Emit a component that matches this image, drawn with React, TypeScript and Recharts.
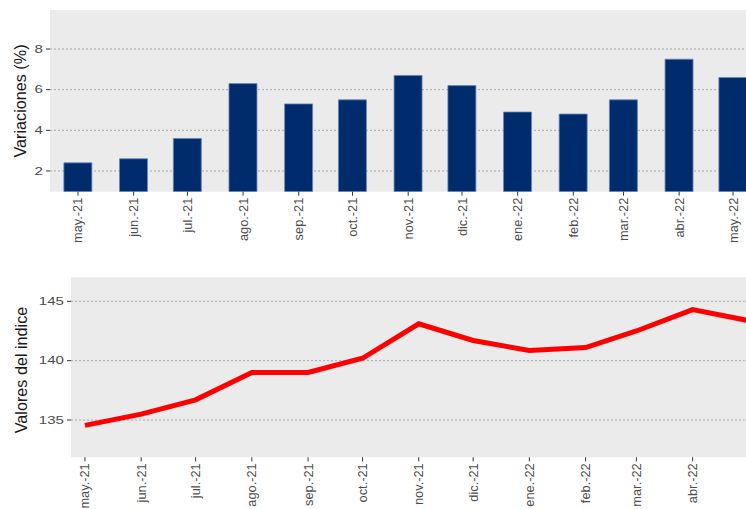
import { BarChart, Bar, LineChart, Line, XAxis, YAxis, CartesianGrid } from "recharts";

const FONT = "'Liberation Sans', Arial, Helvetica, sans-serif";

// Month labels and their dates (first of each month)
const MONTHS = ["may.-21", "jun.-21", "jul.-21", "ago.-21", "sep.-21", "oct.-21", "nov.-21", "dic.-21", "ene.-22", "feb.-22", "mar.-22", "abr.-22", "may.-22"];
const DATES = ["2021-05-01", "2021-06-01", "2021-07-01", "2021-08-01", "2021-09-01", "2021-10-01", "2021-11-01", "2021-12-01", "2022-01-01", "2022-02-01", "2022-03-01", "2022-04-01", "2022-05-01"];

// Variaciones (%)
const VARIACIONES = [2.4, 2.6, 3.6, 6.3, 5.3, 5.5, 6.7, 6.2, 4.9, 4.8, 5.5, 7.5, 6.6];
// Valores del indice
const INDICE = [134.55, 135.5, 136.7, 139.0, 139.0, 140.2, 143.1, 141.7, 140.85, 141.1, 142.5, 144.3, 143.4];

const TOP_TICKS = [2, 4, 6, 8];
const BOTTOM_TICKS = [135, 140, 145];
const TOP_DOMAIN: [number, number] = [0.98, 9.92];
const BOTTOM_DOMAIN: [number, number] = [131.86, 147.02];

const DAY0 = Date.parse(DATES[0]);
const DAYS = DATES.map((d) => Math.round((Date.parse(d) - DAY0) / 86400000));

const data = MONTHS.map((m, i) => ({ month: m, day: DAYS[i], variacion: VARIACIONES[i], indice: INDICE[i] }));

const labelFor = (day: number) => MONTHS[DAYS.indexOf(day)] ?? "";

function XTick(props: any) {
  const { x, y, payload } = props;
  return (
    <text
      x={0} y={0}
      transform={`translate(${x},${y}) rotate(-90)`}
      textAnchor="end"
      dominantBaseline="central"
      fontSize={12.8}
      fontFamily={FONT}
      fill="#4d4d4d"
    >
      {labelFor(payload.value)}
    </text>
  );
}

function YTick(props: any) {
  const { x, y, payload } = props;
  return (
    <text
      x={0} y={0}
      transform={`translate(${x},${y}) scale(1.45,1)`}
      textAnchor="end"
      dominantBaseline="central"
      fontSize={10.4}
      fontFamily={FONT}
      fill="#4d4d4d"
    >
      {payload.value}
    </text>
  );
}

const tickLine = { stroke: "#333333", strokeWidth: 1 };

// only grid lines at the y ticks, none at the panel edges
const gridAt = (ticks: number[], [lo, hi]: [number, number]) => ({ offset }: any) =>
  ticks.map((t) => offset.top + ((hi - t) / (hi - lo)) * offset.height);

const titleStyle = (left: number, top: number): React.CSSProperties => ({
  position: "absolute",
  left,
  top,
  transform: "translate(-50%, -50%) rotate(-90deg)",
  whiteSpace: "nowrap",
  fontSize: 16.2,
  fontFamily: FONT,
  color: "#1a1a1a",
});

export default function App() {
  return (
    <div style={{ position: "absolute", left: 0, top: 0, width: 746, height: 509, overflow: "hidden", background: "#fff" }}>
      <div style={{ position: "absolute", left: 0, top: 0 }}>
        <BarChart width={775} height={250} data={data} margin={{ top: 10, right: 14, left: 0, bottom: 0 }}>
          <CartesianGrid vertical={false} fill="#ebebeb" stroke="#a9a9a9" strokeDasharray="2 2"
            horizontalCoordinatesGenerator={gridAt(TOP_TICKS, TOP_DOMAIN)} />
          <XAxis
            dataKey="day" type="number" domain={[-15.6, 380.6]} ticks={DAYS} allowDataOverflow
            height={58.3} axisLine={false} tickLine={tickLine} tickSize={4} tickMargin={2}
            tick={<XTick />} interval={0}
          />
          <YAxis
            domain={TOP_DOMAIN} ticks={TOP_TICKS} allowDataOverflow width={50}
            axisLine={false} tickLine={tickLine} tickSize={4} tickMargin={3} tick={<YTick />}
          />
          <Bar dataKey="variacion" barSize={28} fill="#002c6e" stroke="#6b86b5" strokeWidth={0.8} isAnimationActive={false} />
        </BarChart>
      </div>
      <div style={{ position: "absolute", left: 0, top: 0 }}>
        <LineChart width={775} height={509} data={data} margin={{ top: 277.3, right: 14, left: 0, bottom: 0 }}>
          <CartesianGrid vertical={false} fill="#ebebeb" stroke="#a9a9a9" strokeDasharray="2 2"
            horizontalCoordinatesGenerator={gridAt(BOTTOM_TICKS, BOTTOM_DOMAIN)} />
          <XAxis
            dataKey="day" type="number" domain={[-7.7, 372.7]} ticks={DAYS.slice(0, 12)} allowDataOverflow
            height={51.7} axisLine={false} tickLine={tickLine} tickSize={4} tickMargin={2}
            tick={<XTick />} interval={0}
          />
          <YAxis
            domain={BOTTOM_DOMAIN} ticks={BOTTOM_TICKS} allowDataOverflow width={71}
            axisLine={false} tickLine={tickLine} tickSize={4} tickMargin={3} tick={<YTick />}
          />
          <Line type="linear" dataKey="indice" stroke="#ff0000" strokeWidth={5} dot={false} isAnimationActive={false} />
        </LineChart>
      </div>
      <div style={titleStyle(20, 100.5)}>Variaciones (%)</div>
      <div style={titleStyle(20.5, 369.5)}>Valores del indice</div>
    </div>
  );
}
